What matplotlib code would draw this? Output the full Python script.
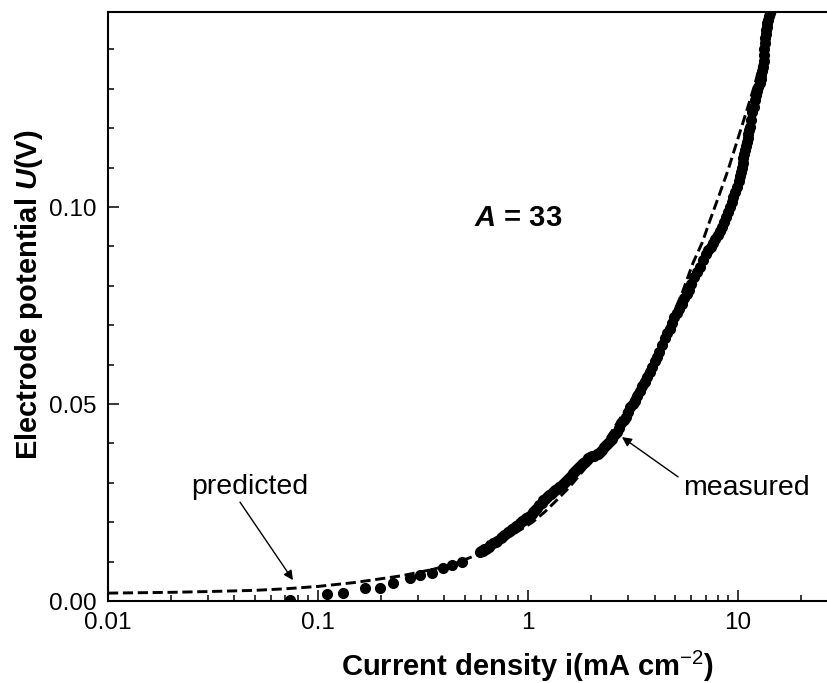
import numpy as np
import matplotlib
matplotlib.use('Agg')
import matplotlib.pyplot as plt
from matplotlib.ticker import MultipleLocator, FixedLocator, FixedFormatter, LogLocator, NullFormatter

plt.rcParams['font.family'] = ['Liberation Sans', 'DejaVu Sans']
plt.rcParams['mathtext.fontset'] = 'custom'
plt.rcParams['mathtext.it'] = 'Liberation Sans:italic:bold'
plt.rcParams['mathtext.rm'] = 'Liberation Sans'
plt.rcParams['mathtext.bf'] = 'Liberation Sans:bold'

# measured data (current density mA/cm2, potential V)
i_meas = [0.0736, 0.110, 0.131, 0.168, 0.197, 0.228, 0.274, 0.306, 0.349, 0.394, 0.435, 0.484,
          0.59, 0.61, 0.63, 0.65, 0.68, 0.71, 0.74, 0.77, 0.80, 0.84, 0.88, 0.92, 0.96, 1.00,
          1.04, 1.08, 1.13, 1.18, 1.23, 1.28, 1.34, 1.40, 1.46, 1.53, 1.60, 1.67, 1.74, 1.82,
          1.90, 1.97, 2.05, 2.12, 2.20, 2.30, 2.40, 2.50, 2.60, 2.72, 2.85, 3.00, 3.15, 3.30,
          3.50, 3.69, 3.90, 4.10, 4.35, 4.59, 4.85, 5.10, 5.40, 5.71, 6.00, 6.40, 6.81, 7.20,
          7.60, 8.00, 8.40, 8.80, 9.16, 9.50, 9.90, 10.2, 10.4, 10.6, 10.8, 11.0, 11.2, 11.4,
          11.7, 12.0, 12.3, 12.7, 12.9, 13.2, 13.3, 13.4, 13.55, 13.7, 13.9, 14.2, 14.4]
U_meas = [0.0003, 0.0018, 0.0020, 0.0033, 0.0033, 0.0046, 0.0058, 0.0066, 0.0071, 0.0084, 0.0091, 0.0099,
          0.0124, 0.0128, 0.0133, 0.0138, 0.0146, 0.0153, 0.0160, 0.0167, 0.0174, 0.0182, 0.0190, 0.0198, 0.0206, 0.0213,
          0.0221, 0.0230, 0.0243, 0.0256, 0.0264, 0.0272, 0.0281, 0.0289, 0.0297, 0.0307, 0.0318, 0.0330, 0.0340, 0.0350,
          0.0358, 0.0365, 0.0368, 0.0372, 0.0378, 0.0390, 0.0400, 0.0412, 0.0425, 0.0440, 0.0460, 0.0480, 0.0500, 0.0520,
          0.0545, 0.0569, 0.0595, 0.0620, 0.0650, 0.0680, 0.0705, 0.0730, 0.0755, 0.0780, 0.0805, 0.0835, 0.0865, 0.0890,
          0.0909, 0.0930, 0.0949, 0.0975, 0.1000, 0.1025, 0.1050, 0.1080, 0.1100, 0.1125, 0.1145, 0.1165, 0.1185, 0.1203,
          0.1240, 0.1272, 0.1295, 0.1315, 0.1335, 0.1355, 0.1385, 0.1416, 0.1440, 0.1457, 0.1475, 0.1492, 0.1510]

# more measured points in the dense part of the band
i_meas2 = [0.60, 0.62, 0.66, 0.70, 0.75, 0.82, 0.86, 0.90, 0.94, 0.98, 1.02, 1.06, 1.10, 1.16, 1.21,
           1.26, 1.31, 1.37, 1.43, 1.50, 1.57, 1.64, 1.71, 1.78, 1.86, 1.94, 2.01, 2.16, 2.25, 2.35,
           2.45, 2.55, 2.66, 2.78, 2.92, 3.07, 3.22, 3.40, 3.60, 3.80, 4.00, 4.22, 4.47, 4.72, 4.97,
           5.25, 5.55, 5.85, 6.20, 6.60, 7.00, 7.40, 7.80, 8.20, 8.60, 8.98, 9.33, 9.70, 10.05, 10.3,
           10.5, 10.7, 10.9, 11.1, 11.3, 11.55, 11.85, 12.15, 12.5, 12.8, 13.05, 13.25, 13.35, 13.5,
           13.62, 13.8, 14.05, 14.3]
U_meas2 = [0.0127, 0.0131, 0.0142, 0.0150, 0.0163, 0.0178, 0.0186, 0.0194, 0.0202, 0.0210, 0.0217, 0.0226,
           0.0236, 0.0250, 0.0260, 0.0268, 0.0277, 0.0285, 0.0293, 0.0302, 0.0313, 0.0325, 0.0335, 0.0345,
           0.0354, 0.0362, 0.0367, 0.0374, 0.0384, 0.0395, 0.0406, 0.0420, 0.0430, 0.0452, 0.0468, 0.0492,
           0.0508, 0.0532, 0.0555, 0.0580, 0.0610, 0.0632, 0.0668, 0.0690, 0.0720, 0.0740, 0.0770, 0.0790,
           0.0822, 0.0848, 0.0880, 0.0898, 0.0920, 0.0940, 0.0962, 0.0988, 0.1012, 0.1038, 0.1065, 0.1090,
           0.1112, 0.1135, 0.1155, 0.1175, 0.1195, 0.1222, 0.1255, 0.1285, 0.1305, 0.1325, 0.1345, 0.1370,
           0.1400, 0.1428, 0.1450, 0.1466, 0.1484, 0.1500]

# predicted curve
i_pred = [0.01, 0.02, 0.03, 0.05, 0.07, 0.1, 0.15, 0.25, 0.35, 0.45, 0.6, 0.8, 1.05, 1.2, 1.37, 1.58,
          2.0, 2.5, 3.0, 4.0, 5.4, 6.1, 6.74, 7.36, 8.2, 8.96, 10.0, 11.0, 12.0, 13.0, 14.0, 15.0]
U_pred = [0.0020, 0.0022, 0.0024, 0.0027, 0.0031, 0.0037, 0.0047, 0.0064, 0.0080, 0.0095, 0.0122, 0.0160,
          0.0200, 0.0226, 0.0256, 0.0290, 0.0355, 0.0430, 0.0495, 0.0620, 0.0780, 0.0858, 0.0909, 0.0967,
          0.1036, 0.1094, 0.1175, 0.1245, 0.1310, 0.1380, 0.1450, 0.1520]

fig = plt.figure(figsize=(8.28, 6.83), dpi=100)
ax = fig.add_axes([108/828, 82/683, 720/828, 589/683])

ax.plot(i_meas, U_meas, 'o', color='black', ms=7, mec='black')
ax.plot(i_meas2, U_meas2, 'o', color='black', ms=7, mec='black')
ax.plot(i_pred, U_pred, color='black', lw=2.1, linestyle=(0, (3.5, 1.6)))

ax.set_xscale('log')
ax.set_xlim(0.01, 26.8)
ax.set_ylim(0, 0.1495)

ax.xaxis.set_major_locator(FixedLocator([0.01, 0.1, 1, 10]))
ax.xaxis.set_major_formatter(FixedFormatter(['0.01', '0.1', '1', '10']))
ax.xaxis.set_minor_locator(LogLocator(base=10, subs=np.arange(2, 10)))
ax.xaxis.set_minor_formatter(NullFormatter())
ax.yaxis.set_major_locator(MultipleLocator(0.05))
ax.yaxis.set_minor_locator(MultipleLocator(0.01))
ax.yaxis.set_major_formatter(plt.FormatStrFormatter('%.2f'))

ax.tick_params(which='both', direction='in', top=False, right=False, width=1.1, labelsize=17.5, pad=8)
ax.tick_params(which='major', length=8)
ax.tick_params(which='minor', length=4.5)
for s in ['left', 'bottom', 'top']:
    ax.spines[s].set_linewidth(1.5)
ax.spines['right'].set_visible(False)

ax.set_xlabel('Current density i(mA cm$^{-2}$)', fontsize=21, fontweight='bold')
ax.set_ylabel('Electrode potential $U$(V)', fontsize=21, fontweight='bold')
ax.xaxis.set_label_coords(0.583, -0.082)
ax.yaxis.set_label_coords(-0.087, 0.52)

ax.text(0.896, 0.0972, '$A$ = 33', fontsize=21, fontweight='bold', ha='center', va='center')

ax.text(0.0474, 0.0289, 'predicted', fontsize=20.5, ha='center', va='center')
ax.annotate('', xy=(0.076, 0.0053), xytext=(0.0425, 0.0251),
            arrowprops=dict(arrowstyle='-|>', color='black', lw=1, mutation_scale=14, shrinkA=0, shrinkB=0))
ax.text(10.9, 0.0287, 'measured', fontsize=20.5, ha='center', va='center')
ax.annotate('', xy=(2.80, 0.0416), xytext=(5.18, 0.0315),
            arrowprops=dict(arrowstyle='-|>', color='black', lw=1, mutation_scale=14, shrinkA=0, shrinkB=0))

plt.savefig('out.png', dpi=100)
